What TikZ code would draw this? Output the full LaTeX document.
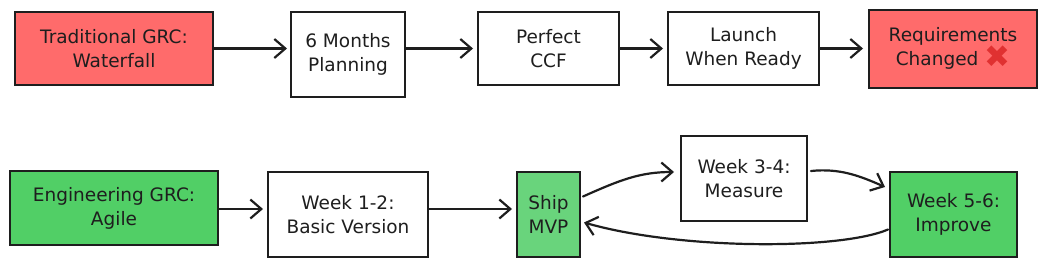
\documentclass[tikz,border=0pt]{standalone}
\usepackage{fontspec}
\setmainfont{DejaVu Sans}
\newfontfamily\symfont{DejaVu Sans}
\usetikzlibrary{arrows.meta,calc}
\definecolor{redfill}{HTML}{FF6B6B}
\definecolor{greenfill}{HTML}{51CF66}
\definecolor{lightgreen}{HTML}{69D47C}
\definecolor{inkc}{HTML}{1E1E1E}
\definecolor{xred}{HTML}{E03131}
\tikzset{
  box/.style={draw=inkc, line width=2pt, align=center, inner sep=2pt,
    font=\fontsize{18.5}{24}\selectfont, text=inkc},
  redbox/.style={box, fill=redfill},
  greenbox/.style={box, fill=greenfill},
  shipbox/.style={box, fill=lightgreen},
  whitebox/.style={box, fill=white},
  conn/.style={draw=inkc, line width=2.2pt, line cap=round,
    -{Straight Barb[length=11pt,width=19pt,line width=2.2pt]}},
}
\begin{document}
\begin{tikzpicture}[x=1pt,y=-1pt]
\useasboundingbox (0,0) rectangle (1048,266);
% top row
\node[redbox, minimum width=198pt, minimum height=73pt] (trad) at (114,48.5) {Traditional GRC:\\Waterfall};
\node[whitebox, minimum width=114pt, minimum height=85pt] (six) at (348,54.5) {6 Months\\Planning};
\node[whitebox, minimum width=141pt, minimum height=73pt] (perf) at (548.5,48.5) {Perfect\\CCF};
\node[whitebox, minimum width=151pt, minimum height=73pt] (launch) at (743.5,48.5) {Launch\\When Ready};
\node[redbox, minimum width=168pt, minimum height=78pt] (req) at (953,48.5) {Requirements\\Changed {\fontsize{31}{24}\selectfont\symfont\color{xred}\raisebox{-2pt}{\char"2716}}};
% bottom row
\node[greenbox, minimum width=208pt, minimum height=74pt] (eng) at (114,208) {Engineering GRC:\\Agile};
\node[whitebox, minimum width=160pt, minimum height=85pt] (w12) at (348,214.5) {Week 1-2:\\Basic Version};
\node[shipbox, minimum width=63pt, minimum height=85pt] (ship) at (548.5,214.5) {Ship\\MVP};
\node[whitebox, minimum width=126pt, minimum height=85pt] (w34) at (744,178.5) {Week 3-4:\\Measure};
\node[greenbox, minimum width=127pt, minimum height=85pt] (w56) at (953.5,214.5) {Week 5-6:\\Improve};
% connectors top
\draw[conn] (trad.east) -- ($(six.west)+(-3,-6)$);
\draw[conn] ($(six.east)+(0,-6)$) -- ($(perf.west)+(-4,0)$);
\draw[conn] (perf.east) -- ($(launch.west)+(-4,0)$);
\draw[conn] (launch.east) -- ($(req.west)+(-5,0)$);
% connectors bottom
\draw[conn] ($(eng.east)+(0,1)$) -- ($(w12.west)+(-4,-5.5)$);
\draw[conn] ($(w12.east)+(0,-5.5)$) -- ($(ship.west)+(-4,-5.5)$);
\draw[conn] ($(ship.east)+(2,-18)$) .. controls (620,180) and (640,172) .. ($(w34.west)+(-6,-6.5)$);
\draw[conn] ($(w34.east)+(3,-7.5)$) .. controls (840,168) and (860,176) .. ($(w56.west)+(-4,-27.5)$);
\draw[conn] ($(w56.west)+(-1,15)$) .. controls (840,250) and (680,250) .. ($(ship.east)+(3,8)$);
\end{tikzpicture}
\end{document}
